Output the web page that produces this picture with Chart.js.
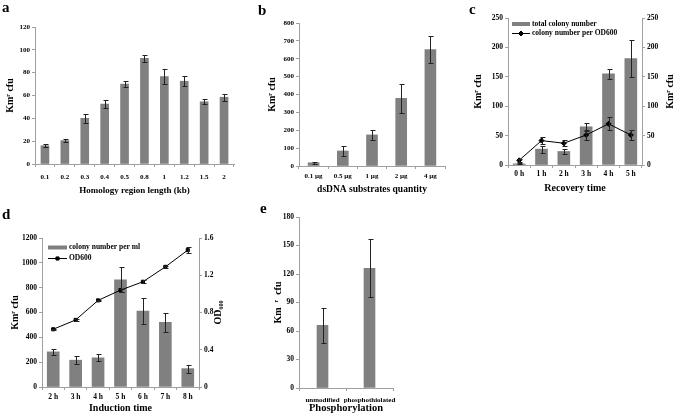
<!DOCTYPE html>
<html>
<head>
<meta charset="utf-8">
<script src="https://cdn.jsdelivr.net/npm/chart.js@4.4.1/dist/chart.umd.min.js"></script>
<style>
  body { margin: 0; background: #fff; }
  #fig { position: relative; width: 675px; height: 414px; overflow: hidden; background: #fff; }
  #fig canvas { position: absolute; }
  .tag { position: absolute; font: bold 15px "Liberation Serif", serif; line-height: 1; }
</style>
</head>
<body>
<div id="fig">
  <canvas id="ca"></canvas>
  <canvas id="cb"></canvas>
  <canvas id="cc"></canvas>
  <canvas id="cd"></canvas>
  <canvas id="ce"></canvas>
  <div class="tag" style="left:2px;top:0px">a</div>
  <div class="tag" style="left:258px;top:3px">b</div>
  <div class="tag" style="left:469px;top:2px">c</div>
  <div class="tag" style="left:2px;top:207px">d</div>
  <div class="tag" style="left:260px;top:201px">e</div>
</div>
<script>
// --- data ---
const lengthLabels = ['0.1', '0.2', '0.3', '0.4', '0.5', '0.8', '1', '1.2', '1.5', '2'];
const lengthCfu = [16, 20.5, 40, 52.5, 70, 92.5, 76.5, 72.5, 54.5, 58.5];
const lengthErr = [1.5, 1.5, 3.8, 3.3, 2.5, 3.2, 6.5, 4.5, 2, 3];

const dsdnaLabels = ['0.1 µg', '0.5 µg', '1 µg', '2 µg', '4 µg'];
const dsdnaCfu = [18, 84, 174, 378, 652];
const dsdnaErr = [7, 27, 30, 81, 75];

const recoveryLabels = ['0 h', '1 h', '2 h', '3 h', '4 h', '5 h'];
const totalColony = [2, 27, 23, 65, 155, 181];
const totalColonyErr = [1, 6, 5, 7, 9, 32];
const colonyPerOD = [8, 41.5, 37, 51, 70, 51];
const colonyPerODErr = [3, 6, 5, 8, 11, 8];

const inductionLabels = ['2 h', '3 h', '4 h', '5 h', '6 h', '7 h', '8 h'];
const colonyPerMl = [283, 216, 235, 863, 612, 520, 148];
const colonyPerMlErr = [27, 30, 27, 101, 102, 78, 32];
const od600 = [0.62, 0.72, 0.93, 1.04, 1.13, 1.29, 1.47];
const od600Err = [0.008, 0.008, 0.008, 0.015, 0.015, 0.008, 0.034];

const phosLabels = ['unmodified', 'phosphothiolated'];
const phosCfu = [66, 126];
const phosErr = [18.3, 30.6];

// --- look ---
const FONT = '"Liberation Serif", "Times New Roman", serif';
const BAR = '#808080';
const AXIS = '#a0a0a0';
Chart.defaults.font.family = FONT;
Chart.defaults.font.weight = 'bold';
Chart.defaults.color = '#000';
Chart.defaults.animation = false;

// error bars from dataset.err
const errorBars = {
  id: 'errorBars',
  afterDatasetsDraw(chart) {
    const ctx = chart.ctx;
    chart.data.datasets.forEach((ds, di) => {
      if (!ds.err) return;
      const meta = chart.getDatasetMeta(di);
      const ys = chart.scales[meta.yAxisID];
      ctx.save();
      ctx.strokeStyle = '#222';
      ctx.lineWidth = 1;
      meta.data.forEach((el, i) => {
        const v = ds.data[i], e = ds.err[i];
        const x = Math.round(el.x) + 0.5;
        const y1 = Math.round(ys.getPixelForValue(v + e)) + 0.5;
        const y2 = Math.round(ys.getPixelForValue(v - e)) + 0.5;
        ctx.beginPath();
        ctx.moveTo(x, y1); ctx.lineTo(x, y2);
        ctx.moveTo(x - 2, y1); ctx.lineTo(x + 3, y1);
        ctx.moveTo(x - 2, y2); ctx.lineTo(x + 3, y2);
        ctx.stroke();
      });
      ctx.restore();
    });
  }
};

// legend drawn inside the plot
const innerLegend = {
  id: 'innerLegend',
  afterDraw(chart, args, o) {
    if (!o || o.x === undefined) return;
    const ctx = chart.ctx;
    ctx.save();
    ctx.font = 'bold ' + o.size + 'px ' + FONT;
    ctx.textBaseline = 'middle';
    chart.data.datasets.forEach((ds, row) => {
      const y = o.y + row * o.gap;
      if (ds.type === 'line') {
        ctx.strokeStyle = '#000';
        ctx.fillStyle = '#000';
        ctx.lineWidth = 1;
        ctx.beginPath(); ctx.moveTo(o.x, y + 0.5); ctx.lineTo(o.x + o.w, y + 0.5); ctx.stroke();
        Chart.helpers.drawPoint(ctx, {pointStyle: ds.pointStyle, radius: ds.pointRadius, borderWidth: 1}, o.x + o.w / 2, y + 0.5);
      } else {
        ctx.fillStyle = ds.backgroundColor;
        ctx.fillRect(o.x, y - 2, o.w, 4);
      }
      ctx.fillStyle = '#000';
      ctx.fillText(ds.label, o.x + o.w + 2, y);
    });
    ctx.restore();
  }
};

// right axis title, read bottom to top like the left one
const rightTitle = {
  id: 'rightTitle',
  afterDraw(chart, args, o) {
    if (!o || !o.text) return;
    const ctx = chart.ctx, a = chart.chartArea;
    ctx.save();
    ctx.font = 'bold ' + o.size + 'px ' + FONT;
    ctx.fillStyle = '#000';
    ctx.textAlign = 'center';
    ctx.textBaseline = 'middle';
    ctx.translate(o.x, (a.top + a.bottom) / 2);
    ctx.rotate(-Math.PI / 2);
    ctx.fillText(o.text, 0, 0);
    ctx.restore();
  }
};

const fmt = v => String(+v.toFixed(2));

function panel(id, box, plot, c) {
  const cv = document.getElementById(id);
  cv.width = box.w; cv.height = box.h;
  cv.style.left = box.x + 'px';
  cv.style.top = box.y + 'px';

  const scales = {
    x: {
      grid: {drawOnChartArea: false, offset: true, tickLength: 3, color: AXIS},
      border: {color: AXIS},
      ticks: {font: {size: c.xTick}, maxRotation: 0, minRotation: 0, autoSkip: false,
              padding: c.xTickY - plot.b - 3 - c.xTick * 0.6},
      title: {display: true, text: c.xTitle, font: {size: c.xTitleSize, lineHeight: 1},
              padding: {top: 0, bottom: Math.max(0, box.y + box.h - c.xTitleY - c.xTitleSize * 0.5)}},
      afterFit: s => { s.height = box.y + box.h - plot.b; }
    },
    y: {
      min: 0, max: c.yMax,
      grid: {drawOnChartArea: false, tickLength: 3, color: AXIS},
      border: {color: AXIS},
      ticks: {stepSize: c.yStep, font: {size: c.yTick}, padding: 2, callback: fmt},
      title: {display: true, text: c.yTitle, font: {size: c.yTitleSize},
              padding: {top: c.yTitleX - box.x - c.yTitleSize * 0.6, bottom: 0}},
      afterFit: s => { s.width = plot.l - box.x; }
    }
  };
  if (c.y2Max) {
    scales.y2 = {
      position: 'right', min: 0, max: c.y2Max,
      grid: {drawOnChartArea: false, tickLength: 3, color: AXIS},
      border: {color: AXIS},
      ticks: {stepSize: c.y2Step, font: {size: c.yTick}, padding: c.y2Pad, callback: fmt},
      afterFit: s => { s.width = box.x + box.w - plot.r; }
    };
  }

  return new Chart(cv, {
    type: 'bar',
    data: {labels: c.labels, datasets: c.datasets},
    options: {
      responsive: false,
      layout: {padding: {left: 0, bottom: 0, top: plot.t - box.y, right: c.y2Max ? 0 : box.x + box.w - plot.r}},
      scales: scales,
      plugins: {
        legend: {display: false},
        tooltip: {enabled: false},
        innerLegend: c.legend || {},
        rightTitle: c.rightTitle || {}
      }
    },
    plugins: [errorBars, innerLegend, rightTitle]
  });
}

function bars(label, data, err, thick) {
  return {type: 'bar', label: label, data: data, err: err, backgroundColor: BAR,
          barThickness: thick, order: 1, yAxisID: 'y'};
}
function line(label, data, err, style, r, axis) {
  return {type: 'line', label: label, data: data, err: err, borderColor: '#000', borderWidth: 1,
          backgroundColor: '#000', pointStyle: style, pointRadius: r, pointBackgroundColor: '#000',
          pointBorderColor: '#000', tension: 0, order: 0, yAxisID: axis};
}

const KM = 'Kmʳ cfu';

// a
panel('ca', {x: 0, y: 0, w: 240, h: 200}, {l: 35, r: 234, t: 27, b: 164}, {
  labels: lengthLabels,
  datasets: [bars('Km cfu', lengthCfu, lengthErr, 8)],
  yMax: 120, yStep: 20, yTick: 7, yTitle: KM, yTitleSize: 10, yTitleX: 10,
  xTick: 7, xTickY: 177, xTitle: 'Homology region length (kb)', xTitleSize: 9, xTitleY: 191
});

// b
panel('cb', {x: 240, y: 0, w: 215, h: 200}, {l: 299, r: 445, t: 23, b: 166}, {
  labels: dsdnaLabels,
  datasets: [bars('Km cfu', dsdnaCfu, dsdnaErr, 11)],
  yMax: 800, yStep: 100, yTick: 7, yTitle: KM, yTitleSize: 10, yTitleX: 272,
  xTick: 7, xTickY: 176.5, xTitle: 'dsDNA substrates quantity', xTitleSize: 9.5, xTitleY: 190
});

// c
panel('cc', {x: 455, y: 0, w: 220, h: 205}, {l: 508, r: 642, t: 18, b: 165}, {
  labels: recoveryLabels,
  datasets: [
    bars('total colony number', totalColony, totalColonyErr, 12),
    line('colony number per OD600', colonyPerOD, colonyPerODErr, 'rectRot', 2.5, 'y2')
  ],
  yMax: 250, yStep: 50, y2Max: 250, y2Step: 50, y2Pad: 2, yTick: 7.5,
  yTitle: KM, yTitleSize: 10, yTitleX: 478,
  xTick: 7.5, xTickY: 174, xTitle: 'Recovery time', xTitleSize: 10, xTitleY: 188,
  legend: {x: 512 - 455, y: 24, gap: 9, w: 18, size: 7.5},
  rightTitle: {text: KM, size: 10, x: 670 - 455}
});

// d
panel('cd', {x: 0, y: 205, w: 235, h: 209}, {l: 42, r: 199, t: 238, b: 387}, {
  labels: inductionLabels,
  datasets: [
    bars('colony number per ml', colonyPerMl, colonyPerMlErr, 12),
    line('OD600', od600, od600Err, 'rect', 2.2, 'y2')
  ],
  yMax: 1200, yStep: 200, y2Max: 1.6, y2Step: 0.4, y2Pad: 2, yTick: 7.5,
  yTitle: KM, yTitleSize: 10, yTitleX: 15,
  xTick: 7.5, xTickY: 397.5, xTitle: 'Induction time', xTitleSize: 10, xTitleY: 408,
  legend: {x: 48, y: 247.5 - 205, gap: 10.5, w: 19, size: 7.5},
  rightTitle: {text: 'OD₆₀₀', size: 10, x: 218}
});

// e
panel('ce', {x: 235, y: 205, w: 220, h: 209}, {l: 299, r: 393, t: 217, b: 388}, {
  labels: phosLabels,
  datasets: [bars('Km cfu', phosCfu, phosErr, 11)],
  yMax: 180, yStep: 30, yTick: 7.5, yTitle: 'Km  ʳ  cfu', yTitleSize: 10, yTitleX: 278,
  xTick: 7, xTickY: 400, xTitle: 'Phosphorylation', xTitleSize: 10.5, xTitleY: 409
});
</script>
</body>
</html>
